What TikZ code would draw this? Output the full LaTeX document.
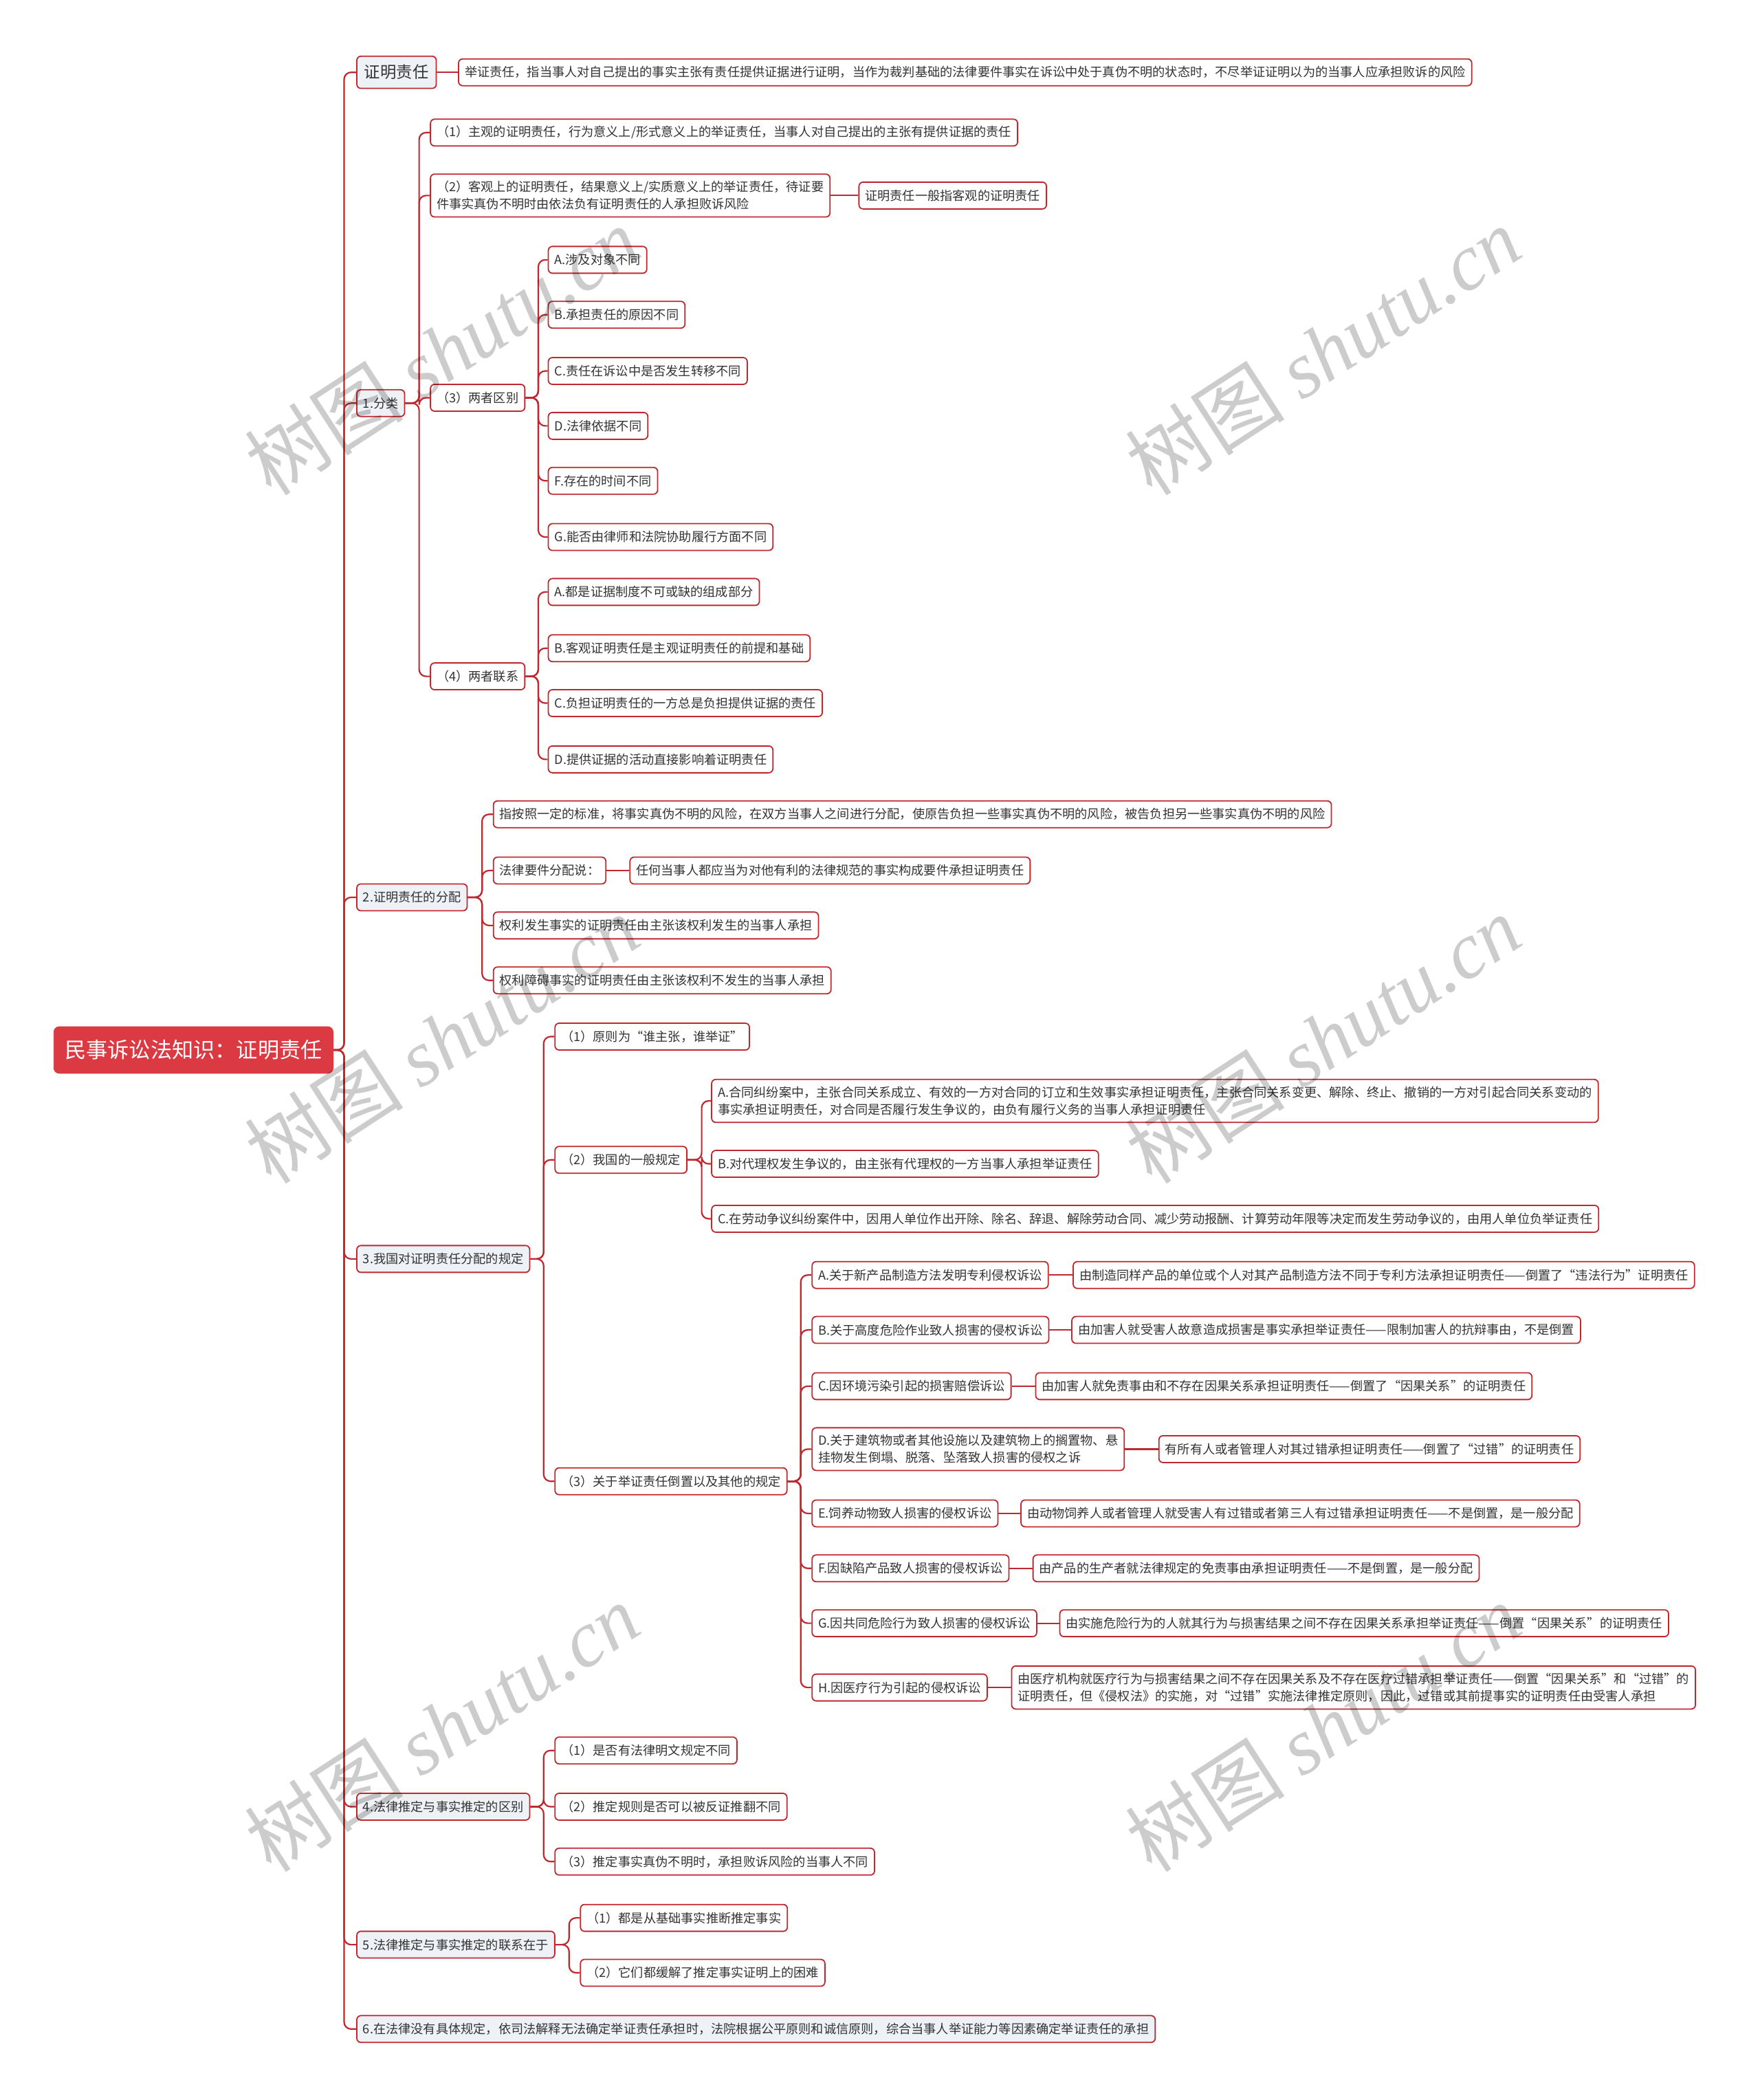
\documentclass[tikz,border=0pt]{standalone}
\usepackage{fontspec}
\setmainfont{Noto Sans CJK SC}
\newfontfamily\wmserif{Liberation Serif}
\definecolor{lc}{HTML}{C0282F}
\definecolor{rootc}{HTML}{DB3A43}
\definecolor{lonefill}{HTML}{EEF1F6}
\definecolor{txt}{HTML}{333333}
\begin{document}
\begin{tikzpicture}[x=0.9741pt,y=-0.9741pt,
  base/.style={draw=lc, line width=0.9pt, rounded corners=3pt, anchor=west, text=txt,
    font=\fontsize{9.1}{12.6}\selectfont, inner xsep=4.5pt, inner ysep=5pt,
    minimum height=19.5pt, align=left},
  leaf/.style={base, fill=white},
  lvone/.style={base, fill=lonefill},
  rootbox/.style={fill=rootc, draw=rootc, rounded corners=4pt, anchor=west, text=white,
    font=\fontsize{15.6}{18}\selectfont, inner xsep=8pt, minimum height=34pt},
  conn/.style={draw=lc, line width=1.1pt, rounded corners=5pt},
  wm/.style={rotate=33, text=black, text opacity=0.2, font=\fontsize{58}{58}\selectfont}
]
\useasboundingbox (0,0) rectangle (1314,1568);
\fill[white] (0,0) rectangle (1314,1568);

% root
\node[rootbox] (root) at (40,784) {民事诉讼法知识：证明责任};

% level 1
\node[lvone, font=\fontsize{11.7}{14}\selectfont, minimum height=23.4pt, inner xsep=5.5pt] (z) at (266,54) {证明责任};
\node[lvone] (s1) at (266,301) {1.分类};
\node[lvone] (s2) at (266,670) {2.证明责任的分配};
\node[lvone] (s3) at (266,940) {3.我国对证明责任分配的规定};
\node[lvone] (s4) at (266,1349) {4.法律推定与事实推定的区别};
\node[lvone] (s5) at (266,1452) {5.法律推定与事实推定的联系在于};
\node[lvone] (s6) at (266,1515) {6.在法律没有具体规定，依司法解释无法确定举证责任承担时，法院根据公平原则和诚信原则，综合当事人举证能力等因素确定举证责任的承担};

% buses
\coordinate (bx0) at (257,0);
\coordinate (bx1) at (313,0);
\coordinate (bx13) at (402,0);
\coordinate (bx2) at (360,0);
\coordinate (bx3) at (406,0);
\coordinate (bx32) at (524,0);
\coordinate (bx33) at (598,0);
\coordinate (bx4) at (406,0);
\coordinate (bx5) at (425,0);

%证明责任
\node[leaf] (z1) at (342,54) {举证责任，指当事人对自己提出的事实主张有责任提供证据进行证明，当作为裁判基础的法律要件事实在诉讼中处于真伪不明的状态时，不尽举证证明以为的当事人应承担败诉的风险};

% 1.分类
\node[leaf] (a1) at (321,99) {（1）主观的证明责任，行为意义上/形式意义上的举证责任，当事人对自己提出的主张有提供证据的责任};
\node[leaf] (a2) at (321,146) {（2）客观上的证明责任，结果意义上/实质意义上的举证责任，待证要\\件事实真伪不明时由依法负有证明责任的人承担败诉风险};
\node[leaf] (a21) at (641,146) {证明责任一般指客观的证明责任};
\node[leaf] (a3) at (321,297) {（3）两者区别};
\node[leaf] (a4) at (321,505) {（4）两者联系};
\node[leaf] (a31) at (409,194) {A.涉及对象不同};
\node[leaf] (a32) at (409,235) {B.承担责任的原因不同};
\node[leaf] (a33) at (409,277) {C.责任在诉讼中是否发生转移不同};
\node[leaf] (a34) at (409,318) {D.法律依据不同};
\node[leaf] (a35) at (409,359) {F.存在的时间不同};
\node[leaf] (a36) at (409,401) {G.能否由律师和法院协助履行方面不同};
\node[leaf] (a41) at (409,442) {A.都是证据制度不可或缺的组成部分};
\node[leaf] (a42) at (409,484) {B.客观证明责任是主观证明责任的前提和基础};
\node[leaf] (a43) at (409,525) {C.负担证明责任的一方总是负担提供证据的责任};
\node[leaf] (a44) at (409,567) {D.提供证据的活动直接影响着证明责任};

% 2.
\node[leaf] (b1) at (368,608) {指按照一定的标准，将事实真伪不明的风险，在双方当事人之间进行分配，使原告负担一些事实真伪不明的风险，被告负担另一些事实真伪不明的风险};
\node[leaf] (b2) at (368,650) {法律要件分配说：};
\node[leaf] (b21) at (470,650) {任何当事人都应当为对他有利的法律规范的事实构成要件承担证明责任};
\node[leaf] (b3) at (368,691) {权利发生事实的证明责任由主张该权利发生的当事人承担};
\node[leaf] (b4) at (368,732) {权利障碍事实的证明责任由主张该权利不发生的当事人承担};

% 3.
\node[leaf] (c1) at (414,774) {（1）原则为“谁主张，谁举证”};
\node[leaf] (c2) at (414,866) {（2）我国的一般规定};
\node[leaf] (c3) at (414,1106) {（3）关于举证责任倒置以及其他的规定};
\node[leaf] (c21) at (531,822) {A.合同纠纷案中，主张合同关系成立、有效的一方对合同的订立和生效事实承担证明责任，主张合同关系变更、解除、终止、撤销的一方对引起合同关系变动的\\事实承担证明责任，对合同是否履行发生争议的，由负有履行义务的当事人承担证明责任};
\node[leaf] (c22) at (531,869) {B.对代理权发生争议的，由主张有代理权的一方当事人承担举证责任};
\node[leaf] (c23) at (531,910) {C.在劳动争议纠纷案件中，因用人单位作出开除、除名、辞退、解除劳动合同、减少劳动报酬、计算劳动年限等决定而发生劳动争议的，由用人单位负举证责任};

\node[leaf] (d1) at (606,952) {A.关于新产品制造方法发明专利侵权诉讼};
\node[leaf] (d2) at (606,993) {B.关于高度危险作业致人损害的侵权诉讼};
\node[leaf] (d3) at (606,1035) {C.因环境污染引起的损害赔偿诉讼};
\node[leaf] (d4) at (606,1082) {D.关于建筑物或者其他设施以及建筑物上的搁置物、悬\\挂物发生倒塌、脱落、坠落致人损害的侵权之诉};
\node[leaf] (d5) at (606,1130) {E.饲养动物致人损害的侵权诉讼};
\node[leaf] (d6) at (606,1171) {F.因缺陷产品致人损害的侵权诉讼};
\node[leaf] (d7) at (606,1212) {G.因共同危险行为致人损害的侵权诉讼};
\node[leaf] (d8) at (606,1260) {H.因医疗行为引起的侵权诉讼};

\node[leaf] (e1) at (801,952) {由制造同样产品的单位或个人对其产品制造方法不同于专利方法承担证明责任——倒置了“违法行为”证明责任};
\node[leaf] (e2) at (800,993) {由加害人就受害人故意造成损害是事实承担举证责任——限制加害人的抗辩事由，不是倒置};
\node[leaf] (e3) at (773,1035) {由加害人就免责事由和不存在因果关系承担证明责任——倒置了“因果关系”的证明责任};
\node[leaf] (e4) at (865,1082) {有所有人或者管理人对其过错承担证明责任——倒置了“过错”的证明责任};
\node[leaf] (e5) at (762,1130) {由动物饲养人或者管理人就受害人有过错或者第三人有过错承担证明责任——不是倒置，是一般分配};
\node[leaf] (e6) at (771,1171) {由产品的生产者就法律规定的免责事由承担证明责任——不是倒置，是一般分配};
\node[leaf] (e7) at (791,1212) {由实施危险行为的人就其行为与损害结果之间不存在因果关系承担举证责任——倒置“因果关系”的证明责任};
\node[leaf] (e8) at (755,1260) {由医疗机构就医疗行为与损害结果之间不存在因果关系及不存在医疗过错承担举证责任——倒置“因果关系”和“过错”的\\证明责任，但《侵权法》的实施，对“过错”实施法律推定原则，因此，过错或其前提事实的证明责任由受害人承担};

% 4.
\node[leaf] (f1) at (414,1307) {（1）是否有法律明文规定不同};
\node[leaf] (f2) at (414,1349) {（2）推定规则是否可以被反证推翻不同};
\node[leaf] (f3) at (414,1390) {（3）推定事实真伪不明时，承担败诉风险的当事人不同};

% 5.
\node[leaf] (g1) at (433,1432) {（1）都是从基础事实推断推定事实};
\node[leaf] (g2) at (433,1473) {（2）它们都缓解了推定事实证明上的困难};

% connectors
\foreach \c in {z,s1,s2,s3,s4,s5,s6}
  \draw[conn] (root.east) -- (root.east -| bx0) |- (\c.west);
\draw[conn] (z.east) -- (z1.west);
\foreach \c in {a1,a2,a3,a4}
  \draw[conn] (s1.east) -- (s1.east -| bx1) |- (\c.west);
\draw[conn] (a2.east) -- (a21.west);
\foreach \c in {a31,a32,a33,a34,a35,a36}
  \draw[conn] (a3.east) -- (a3.east -| bx13) |- (\c.west);
\foreach \c in {a41,a42,a43,a44}
  \draw[conn] (a4.east) -- (a4.east -| bx13) |- (\c.west);
\foreach \c in {b1,b2,b3,b4}
  \draw[conn] (s2.east) -- (s2.east -| bx2) |- (\c.west);
\draw[conn] (b2.east) -- (b21.west);
\foreach \c in {c1,c2,c3}
  \draw[conn] (s3.east) -- (s3.east -| bx3) |- (\c.west);
\foreach \c in {c21,c22,c23}
  \draw[conn] (c2.east) -- (c2.east -| bx32) |- (\c.west);
\foreach \c in {d1,d2,d3,d4,d5,d6,d7,d8}
  \draw[conn] (c3.east) -- (c3.east -| bx33) |- (\c.west);
\foreach \i in {1,...,8}
  \draw[conn] (d\i.east) -- (e\i.west);
\foreach \c in {f1,f2,f3}
  \draw[conn] (s4.east) -- (s4.east -| bx4) |- (\c.west);
\foreach \c in {g1,g2}
  \draw[conn] (s5.east) -- (s5.east -| bx5) |- (\c.west);

% watermarks
\foreach \wx/\wy [count=\k] in {330/262, 988/262, 330/776, 988/776, 330/1290, 988/1290}
  \node[wm] (wm\k) at (\wx,\wy) {树图 {\wmserif\itshape shutu.cn}};
\end{tikzpicture}
\end{document}
